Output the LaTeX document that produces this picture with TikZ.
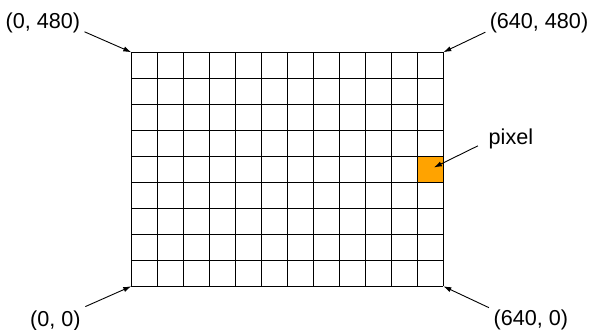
\documentclass[tikz,border=0pt]{standalone}
\usepackage{fontspec}
\setmainfont{Liberation Sans}
\usepackage{xcolor}
\usetikzlibrary{arrows.meta, positioning}

\definecolor{pixelorange}{RGB}{255,163,0}

\begin{document}
\begin{tikzpicture}[
    x=13pt, y=13pt,
    gridline/.style={line width=0.6pt, black},
    cell/.style={fill=pixelorange, minimum size=13pt, inner sep=0pt},
    lbl/.style={font=\fontsize{10.8}{12}\selectfont, inner sep=0pt},
    pointer/.style={line width=0.45pt, -{Latex[length=4pt, width=2.6pt]}},
  ]
  \useasboundingbox (-5.05,-1.68) rectangle (17.68,11.01);

  % the highlighted pixel
  \node[cell] (px) at (11.5,4.5) {};

  % screen grid, 12 x 9 cells
  \foreach \i in {0,...,12}
    \draw[gridline] (\i,0) -- (\i,9);
  \foreach \j in {0,...,9}
    \draw[gridline] (0,\j) -- (12,\j);

  % corners
  \coordinate (bl) at (0,0);
  \coordinate (br) at (12,0);
  \coordinate (tl) at (0,9);
  \coordinate (tr) at (12,9);

  % labels
  \node[lbl] (tlLabel) at (-3.40,10.11) {(0, 480)};
  \node[lbl] (trLabel) at (15.68,10.11) {(640, 480)};
  \node[lbl] (blLabel) at (-2.92,-1.32) {(0, 0)};
  \node[lbl] (brLabel) at (15.37,-1.30) {(640, 0)};
  \node[lbl] (pxLabel) at (14.60,5.67) {pixel};

  \draw[pointer] ([xshift=2pt,yshift=-4.2pt]tlLabel.east) -- (tl);
  \draw[pointer] ([xshift=-2pt,yshift=-4.4pt]trLabel.west) -- (tr);
  \draw[pointer] ([xshift=2.2pt,yshift=7pt]blLabel.east) -- (bl);
  \draw[pointer] ([xshift=-2.2pt,yshift=6.2pt]brLabel.west) -- (br);
  \draw[pointer, shorten >=2pt] ([xshift=-5.2pt,yshift=-3.5pt]pxLabel.west) -- (px.center);
\end{tikzpicture}
\end{document}
